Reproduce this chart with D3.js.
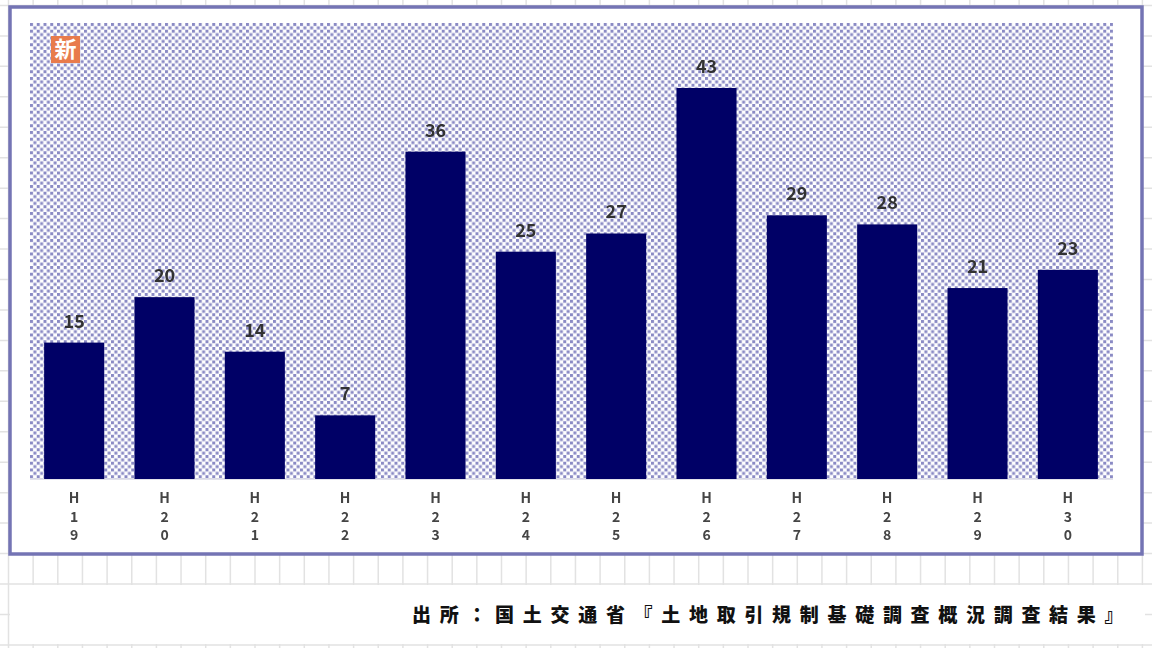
<!DOCTYPE html>
<html>
<head>
<meta charset="utf-8">
<script src="https://cdn.jsdelivr.net/npm/d3@7"></script>
<style>
  html, body { margin: 0; padding: 0; background: #fff; }
  svg { display: block; }
  text { font-family: "Noto Sans CJK JP", "DejaVu Sans", sans-serif; }
</style>
</head>
<body>
<div id="container"></div>
<script>
/* CONSTANTS AND GLOBALS */
const width = 1152,
  height = 648,
  frame = { left: 10, right: 1142, top: 7, bottom: 554 },
  plot = { left: 30, right: 1113, top: 23, bottom: 479 };

/* DATA */
const years = ["H19", "H20", "H21", "H22", "H23", "H24", "H25", "H26", "H27", "H28", "H29", "H30"];
const counts = [15, 20, 14, 7, 36, 25, 27, 43, 29, 28, 21, 23];
const sourceText = "出所：国土交通省『土地取引規制基礎調査概況調査結果』";

const svg = d3.select("#container")
  .append("svg")
  .attr("width", width)
  .attr("height", height);

const defs = svg.append("defs");

// checker fill behind the bars
const tile = 6.75, square = 3;
const pattern = defs.append("pattern")
  .attr("id", "checker")
  .attr("patternUnits", "userSpaceOnUse")
  .attr("x", plot.left)
  .attr("y", plot.top)
  .attr("width", tile)
  .attr("height", tile);
pattern.append("rect").attr("width", tile).attr("height", tile).attr("fill", "#fff");
pattern.append("rect").attr("width", square).attr("height", square).attr("fill", "#8a8ac4");
pattern.append("rect").attr("x", tile / 2).attr("y", tile / 2).attr("width", square).attr("height", square).attr("fill", "#8a8ac4");

defs.append("filter").attr("id", "soft")
  .append("feGaussianBlur").attr("stdDeviation", 0.45);

/* SPREADSHEET GRID BEHIND EVERYTHING */
const gridColor = "#e2e2e2";
const gridX = d3.range(8.5, 1152, 24.65);
const gridY = d3.range(584 - 30.45 * 19, 648, 30.45);

const grid = svg.append("g").attr("stroke", gridColor).attr("stroke-width", 1.5);
grid.selectAll("line.v")
  .data(gridX)
  .join("line")
  .attr("class", "v")
  .attr("x1", d => d).attr("x2", d => d)
  .attr("y1", 0).attr("y2", height);
grid.selectAll("line.h")
  .data(gridY)
  .join("line")
  .attr("class", "h")
  .attr("x1", 0).attr("x2", width)
  .attr("y1", d => d).attr("y2", d => d);

// white block that holds the source line
svg.append("rect")
  .attr("x", 10).attr("y", 585)
  .attr("width", 1135).attr("height", 59)
  .attr("fill", "#fff");

/* FRAME */
svg.append("rect")
  .attr("x", frame.left)
  .attr("y", frame.top)
  .attr("width", frame.right - frame.left)
  .attr("height", frame.bottom - frame.top)
  .attr("fill", "#fff")
  .attr("stroke", "#7474b4")
  .attr("stroke-width", 3.5);

/* SCALES */
const xScale = d3.scaleBand()
  .domain(years)
  .range([29, plot.right])
  .paddingInner(0.335)
  .paddingOuter(0.1675);

const yScale = d3.scaleLinear()
  .domain([0, 43])
  .range([plot.bottom, 88]);

/* PLOT BACKGROUND */
svg.append("rect")
  .attr("x", plot.left)
  .attr("y", plot.top)
  .attr("width", plot.right - plot.left)
  .attr("height", plot.bottom - plot.top)
  .attr("fill", "url(#checker)");

// baseline
svg.append("line")
  .attr("x1", plot.left).attr("x2", plot.right)
  .attr("y1", plot.bottom).attr("y2", plot.bottom)
  .attr("stroke", "#d8d8e4")
  .attr("stroke-width", 1.5);

/* BARS */
svg.selectAll("rect.bar")
  .data(years)
  .join("rect")
  .attr("class", "bar")
  .attr("x", d => xScale(d))
  .attr("y", (d, i) => yScale(counts[i]))
  .attr("width", xScale.bandwidth())
  .attr("height", (d, i) => plot.bottom - yScale(counts[i]))
  .attr("fill", "#000066");

/* VALUE LABELS */
svg.append("g")
  .attr("filter", "url(#soft)")
  .selectAll("text.value")
  .data(years)
  .join("text")
  .attr("class", "value")
  .attr("x", d => xScale(d) + xScale.bandwidth() / 2)
  .attr("y", (d, i) => yScale(counts[i]) - 15)
  .attr("text-anchor", "middle")
  .attr("font-size", 18)
  .attr("font-weight", 700)
  .attr("fill", "#333")
  .text((d, i) => counts[i]);

/* X AXIS, each label stacked one character per row */
const xAxis = d3.axisBottom(xScale).tickSize(0).tickFormat("");
const axisG = svg.append("g")
  .attr("transform", `translate(0,${plot.bottom})`)
  .call(xAxis);
axisG.select(".domain").remove();

axisG.selectAll(".tick")
  .attr("filter", "url(#soft)")
  .each(function(d) {
    d3.select(this).selectAll("text.char")
      .data(d.split(""))
      .join("text")
      .attr("class", "char")
      .attr("x", 0)
      .attr("y", (c, i) => 24 + i * 18.5)
      .attr("text-anchor", "middle")
      .attr("font-size", 14)
      .attr("font-weight", 700)
      .attr("fill", "#444")
      .text(c => c);
  });

/* NEW BADGE */
const badge = svg.append("g").attr("transform", "translate(51,36)");
badge.append("rect")
  .attr("width", 29).attr("height", 27)
  .attr("fill", "#e87b4c");
badge.append("text")
  .attr("x", 14.5).attr("y", 21)
  .attr("text-anchor", "middle")
  .attr("font-size", 22)
  .attr("font-weight", 700)
  .attr("fill", "#fff")
  .text("新");

/* SOURCE */
svg.append("text")
  .attr("x", 412)
  .attr("y", 622)
  .attr("font-size", 19)
  .attr("font-weight", 900)
  .attr("letter-spacing", 8.7)
  .attr("fill", "#111")
  .text(sourceText);
</script>
</body>
</html>
